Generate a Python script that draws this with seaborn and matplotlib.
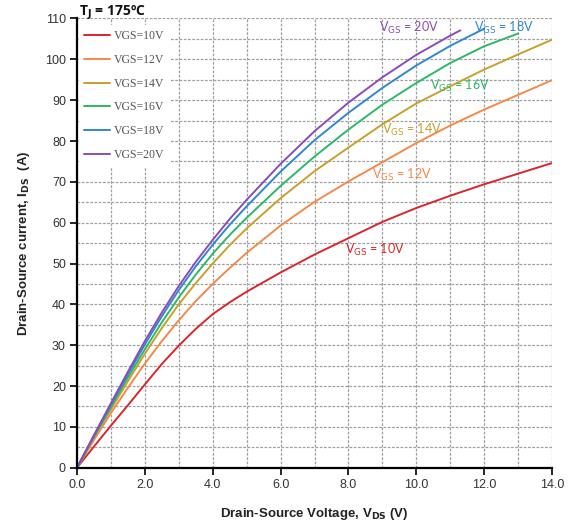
import matplotlib
matplotlib.use("Agg")
import matplotlib.pyplot as plt
from matplotlib.ticker import MultipleLocator, FormatStrFormatter
from matplotlib.lines import Line2D
import seaborn as sns
import pandas as pd

# Output characteristics at Tj = 175 °C, one curve per gate voltage
vds_10 = [0, 0.5, 1, 1.5, 2, 2.5, 3, 3.5, 4, 4.5, 5, 6, 7, 8, 9, 10, 11, 12, 13, 14]
ids_10 = [0, 5.2, 10.3, 15.3, 20.4, 25.4, 29.9, 34, 37.6, 40.5, 43.1, 47.8, 52.2,
          56.2, 60.2, 63.6, 66.6, 69.4, 72, 74.6]

vds_12 = [0, 0.5, 1, 1.5, 2, 2.5, 3, 3.5, 4, 4.5, 5, 6, 7, 8, 9, 10, 11, 12, 13, 14]
ids_12 = [0, 6.8, 13.4, 19.6, 25.5, 31, 36.1, 40.8, 45, 48.9, 52.6, 59.3, 65.1,
          70.1, 74.8, 79.5, 83.8, 87.7, 91.3, 94.9]

vds_14 = [0, 0.5, 1, 1.5, 2, 2.5, 3, 3.5, 4, 4.5, 5, 6, 7, 8, 9, 10, 11, 12, 13, 14]
ids_14 = [0, 7.4, 14.3, 21.2, 27.9, 34.2, 40, 45.2, 50, 54.5, 58.6, 66, 72.6,
          78.4, 84.1, 89.2, 93.4, 97.5, 101.2, 104.8]

vds_16 = [0, 0.5, 1, 1.5, 2, 2.5, 3, 3.5, 4, 4.5, 5, 6, 7, 8, 9, 10, 11, 12, 13]
ids_16 = [0, 7.6, 14.9, 22.1, 29, 35.6, 41.7, 47.3, 52.4, 57, 61.2, 69, 76.2,
          82.8, 88.9, 94.2, 99.1, 103.2, 106.3]

vds_18 = [0, 0.5, 1, 1.5, 2, 2.5, 3, 3.5, 4, 4.5, 5, 6, 7, 8, 9, 10, 11, 12]
ids_18 = [0, 7.8, 15.4, 22.9, 30.2, 37.1, 43.5, 49.3, 54.6, 59.5, 64, 72.5, 80.2,
          86.9, 93, 98.5, 103.3, 107.5]

vds_20 = [0, 0.5, 1, 1.5, 2, 2.5, 3, 3.5, 4, 4.5, 5, 6, 7, 8, 9, 10, 11, 11.3]
ids_20 = [0, 8, 15.8, 23.5, 31, 38, 44.5, 50.4, 55.8, 60.9, 65.6, 74.4, 82.4,
          89.4, 95.6, 101.1, 105.8, 107.1]

series_names = ["VGS=10V", "VGS=12V", "VGS=14V", "VGS=16V", "VGS=18V", "VGS=20V"]
curve_labels = ["10V", "12V", "14V", "16V", "18V", "20V"]
colors = ["#d9262b", "#f5894a", "#c9a02a", "#2cb866", "#2f88d0", "#8a4cb8"]

# label anchor (x, y) in data units for each curve tag
label_x = [7.9, 8.7, 9.0, 10.4, 11.7, 8.9]
label_y = [53.3, 71.8, 82.7, 93.6, 107.7, 107.7]

frames = []
for name, v, i in zip(series_names,
                      [vds_10, vds_12, vds_14, vds_16, vds_18, vds_20],
                      [ids_10, ids_12, ids_14, ids_16, ids_18, ids_20]):
    frames.append(pd.DataFrame({"Vds": v, "Ids": i, "VGS": name}))
df = pd.concat(frames, ignore_index=True)

sns.set_style("white")
plt.rcParams["font.family"] = ["Liberation Sans", "DejaVu Sans"]

fig = plt.figure(figsize=(5.73, 5.25), dpi=100)
ax = fig.add_axes([0.1344, 0.1091, 0.829, 0.8557])

sns.lineplot(data=df, x="Vds", y="Ids", hue="VGS", hue_order=series_names,
             palette=colors, sort=False, estimator=None, linewidth=1.4,
             legend=False, ax=ax, zorder=3)

ax.set_xlim(0, 14)
ax.set_ylim(0, 110)
ax.xaxis.set_major_locator(MultipleLocator(2))
ax.xaxis.set_minor_locator(MultipleLocator(1))
ax.yaxis.set_major_locator(MultipleLocator(10))
ax.yaxis.set_minor_locator(MultipleLocator(5))
ax.xaxis.set_major_formatter(FormatStrFormatter("%.1f"))

ax.grid(True, which="both", color="#a0a0a0", linestyle=(0, (2.2, 1.2)), linewidth=0.9)
ax.set_axisbelow(True)

for s in ["top", "right"]:
    ax.spines[s].set_visible(False)
for s in ["left", "bottom"]:
    ax.spines[s].set_color("black")
    ax.spines[s].set_linewidth(1.6)
    ax.spines[s].set_zorder(5)

ax.tick_params(which="major", direction="out", length=5, width=1.2, color="black",
               labelsize=9, labelcolor="#333333", left=True, bottom=True, pad=3)
ax.tick_params(which="minor", length=0)

ax.set_xlabel(r"Drain-Source Voltage, V$_{\mathbf{DS}}$ (V)", fontsize=9.5,
              fontweight="bold", color="#222222", labelpad=11)
ax.set_ylabel(r"Drain-Source current, I$_{\mathbf{DS}}$  (A)", fontsize=9.5,
              fontweight="bold", color="#222222", labelpad=9)

# curve tags
for lx, ly, txt, c in zip(label_x, label_y, curve_labels, colors):
    ax.text(lx, ly, r"V$_{\mathrm{GS}}$ = " + txt, color=c, fontsize=9,
            family=["Lato", "DejaVu Sans"], va="center", ha="left", zorder=6)

# legend
handles = [Line2D([0], [0], color=c, lw=1.4) for c in colors]
leg = ax.legend(handles, series_names, loc="upper left", bbox_to_anchor=(0.0, 0.99),
                frameon=True, fancybox=False, framealpha=1.0, edgecolor="white",
                facecolor="white", prop={"family": "Liberation Serif", "size": 8.5},
                labelspacing=1.0, handlelength=2.2, handletextpad=0.3,
                borderpad=0.4, borderaxespad=0.2)
for t in leg.get_texts():
    t.set_color("#555555")
leg.set_zorder(7)

fig.text(0.137, 0.975, r"T$_\mathbf{J}$ = 175ºC", fontsize=10, fontweight="bold",
         family=["Open Sans", "DejaVu Sans"], ha="left", va="center", color="#111111")

fig.savefig("out.png", dpi=100)
